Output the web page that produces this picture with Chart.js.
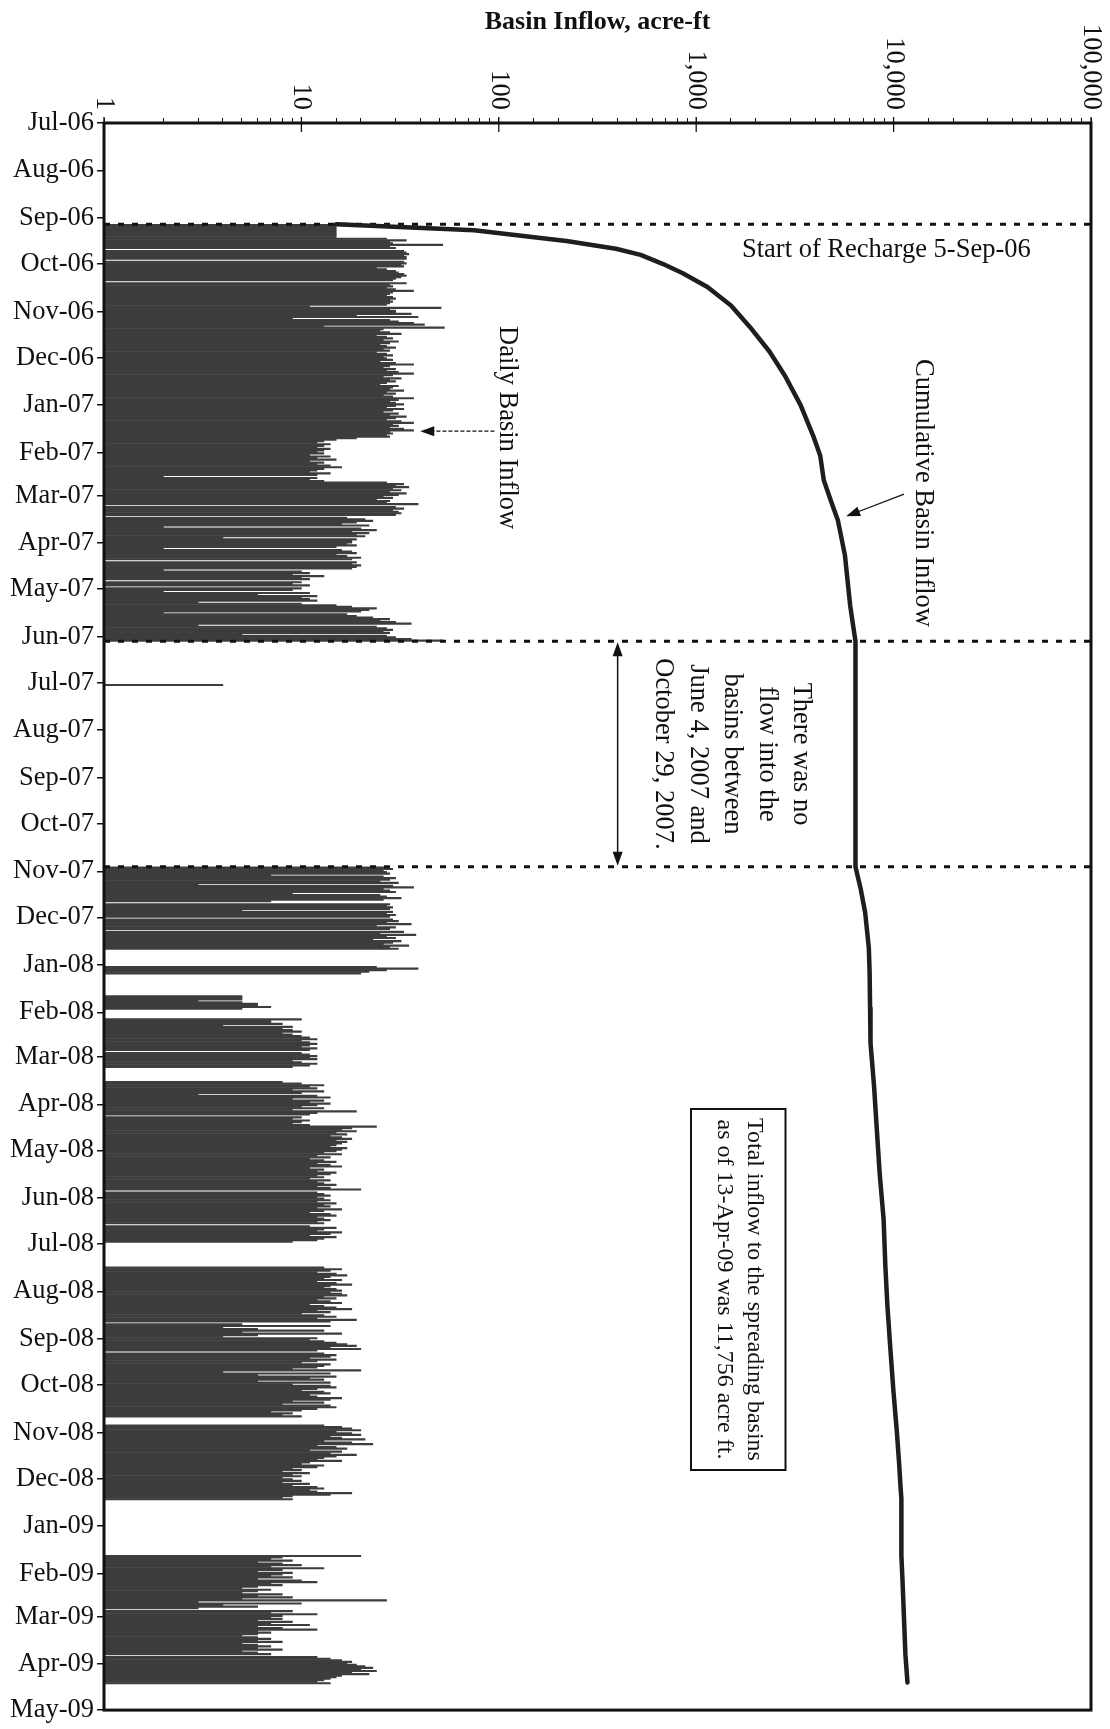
<!DOCTYPE html>
<html>
<head>
<meta charset="utf-8">
<title>Basin Inflow</title>
<script src="https://cdn.jsdelivr.net/npm/chart.js@4/dist/chart.umd.min.js"></script>
<style>
  html, body { margin: 0; padding: 0; background: #ffffff; }
  #wrap { width: 1110px; height: 1729px; position: relative; }
</style>
</head>
<body>
<div id="wrap"><canvas id="chart"></canvas></div>
<script>
// ---- Axis definitions ----
const monthLabels = ['Jul-06','Aug-06','Sep-06','Oct-06','Nov-06','Dec-06','Jan-07','Feb-07','Mar-07','Apr-07',
  'May-07','Jun-07','Jul-07','Aug-07','Sep-07','Oct-07','Nov-07','Dec-07','Jan-08','Feb-08','Mar-08','Apr-08',
  'May-08','Jun-08','Jul-08','Aug-08','Sep-08','Oct-08','Nov-08','Dec-08','Jan-09','Feb-09','Mar-09','Apr-09','May-09'];
const xTickValues = [1, 10, 100, 1000, 10000, 100000];
const xTickLabels = ['1', '10', '100', '1,000', '10,000', '100,000'];

// ---- Daily basin inflow, acre-ft per day (index 0 = 1st of month; missing days = no flow) ----
const sep06 = [0,0,0,0,15,15,15,15,15,15,15,15,15,27,34,28,29,52,28,30,0,33,34,35,33,34,34,0,33,34];
const oct06 = [32,33,24,27,30,31,33,34,32,30,29,0,34,28,29,27,30,37,29,28,27,29,30,28,29,28,27,11,51,28,30];
const nov06 = [30,36,19,39,9,28,31,37,42,13,53,26,25,28,32,24,27,29,26,31,28,25,27,30,26,28,24,27,29,26];
const dec06 = [27,29,25,30,37,28,26,30,27,31,37,29,26,32,28,30,27,25,31,29,28,33,27,30,26,29,37,31,28,30,33];
const jan07 = [30,27,33,29,26,31,28,34,30,27,32,37,29,31,28,33,37,28,29,27,28,19,15,13,12,14,13,12,14,13,12];
const feb07 = [13,11,14,12,15,11,13,12,14,16,13,12,11,14,12,2,12,11,13,27,33,30,35,29,32,28,34,31];
const mar07 = [26,29,24,28,27,39,0,30,33,29,31,32,30,0,17,21,23,19,16,22,2,20,24,18,22,19,21,4,19,18,18];
const apr07 = [17,19,15,2,16,18,19,15,17,20,18,0,19,18,20,19,18,2,10,11,9,13,10,11,0,10,9,11,0,10];
const may07 = [9,2,11,6,12,10,11,12,3,10,15,18,24,22,20,2,17,19,23,28,25,30,36,3,24,27,29,26,28,5,27];
const jun07 = [30,36,52];
const jul07 = [0,4];
const oct07 = [0,0,0,0,0,0,0,0,0,0,0,0,0,0,0,0,0,0,0,0,0,0,0,0,0,0,0,0,27,29,26];
const nov07 = [27,28,7,26,30,28,25,31,3,29,37,26,28,30,9,25,27,32,26,7,0,28,27,29,28,5,29,27,30,28];
const dec07 = [0,29,31,27,36,24,30,28,0,33,25,38,27,30,23,32,29,26,35,28,31];
const jan08 = [0,24,39,27,22,20,0,0,0,0,0,0,0,0,0,0,0,0,0,0,5,5,5,3,5,6,6,7,5];
const feb08 = [0,0,0,0,10,7,7,8,4,9,8,9,10,8,9,10,11,12,10,11,12,11,10,12,11,0,10,11,12];
const mar08 = [11,12,9,10,12,11,9,0,0,0,0,0,0,0,0,0,8,10,13,11,12,9,13,10,3,12,14,9,13,11,14];
const apr08 = [12,10,13,9,19,12,11,0,10,9,11,10,9,11,24,18,16,19,15,17,14,16,18,15,17,16,15,14,17,16];
const may08 = [15,13,16,12,14,11,13,15,12,14,16,11,13,12,15,14,12,13,11,14,12,13,15,12,14,20,0,12,13,14,12];
const jun08 = [13,14,12,15,13,14,12,16,13,11,14,15,12,13,14,12,13,0,11,15,13,12,16,14,11,15,13,12,9];
const jul08 = [0,0,0,0,0,0,0,0,0,0,0,0,0,0,0,13,16,14,12,15,17,14,13,16,12,15,18,14,13,15,16];
const aug08 = [14,16,17,13,15,12,14,16,11,13,15,18,12,14,10,13,15,12,19,14,0,5,14,4,6,13,5,16,6,4,12];
const sep08 = [11,13,15,17,19,14,20,12,0,13,15,14,11,15,12,10,14,13,12,9,20,4,14,6,15,11,13,6,14,9];
const oct08 = [14,15,12,10,13,14,11,12,16,14,9,13,8,14,15,12,10,7,9,8,10,0,0,0,0,0,13,16,18,20,15];
const nov08 = [18,20,14,16,21,13,18,23,12,15,17,11,16,14,19,15,13,12,16,11,10,13,12,9,10,8,11,9,10,8];
const dec08 = [9,10,8,11,9,12,13,11,12,18,14,9,8,9];
const jan09 = [0,0,0,0,0,0,0,0,0,0,0,0,0,0,0,0,0,0,0,20,8,7,9,6,8,10,7,13,8,6,9];
const feb09 = [8,7,9,6,10,12,7,8,6,5,7,6,5,8,6,9,5,27,3,10,4,6,3,0,9,7,12,8];
const mar09 = [7,8,6,9,7,11,6,8,12,6,7,6,5,6,7,6,8,5,6,7,6,8,5,6,7,0,12,14,16,18,17];
const apr09 = [19,21,23,20,24,18,22,16,15,14,13,12,14];

// ---- Cumulative basin inflow, acre-ft ----
const cumulativeDates = ['2006-09-05','2006-09-09','2006-09-13','2006-09-16','2006-09-21','2006-09-25','2006-10-01',
  '2006-10-07','2006-10-16','2006-10-28','2006-11-11','2006-11-27','2006-12-13','2007-01-01','2007-01-21','2007-02-03',
  '2007-02-19','2007-03-04','2007-03-17','2007-04-09','2007-05-12','2007-06-04','2007-10-29','2007-11-12','2007-11-28',
  '2007-12-21','2008-01-06','2008-01-29','2008-02-21','2008-03-20','2008-04-15','2008-05-16','2008-06-15','2008-07-15',
  '2008-08-10','2008-09-05','2008-10-05','2008-10-31','2008-11-20','2008-12-07','2008-12-14','2009-01-20','2009-02-06',
  '2009-03-01','2009-03-26','2009-04-13'];
const cumulativeValues = [15,75,140,220,392,523,680,855,1140,1500,1870,2350,2820,3380,3915,4250,4430,4800,5220,5670,
  6030,6410,6410,6800,7180,7490,7560,7600,7640,7960,8200,8500,8900,9080,9300,9600,9980,10380,10650,10850,10950,10950,
  11100,11280,11480,11756];

// ---- Event dates ----
const rechargeStart = '2006-09-05';
const noFlowStart = '2007-06-04';
const noFlowEnd = '2007-10-29';

// ---- Text ----
const titleText = 'Basin Inflow, acre-ft';
const rechargeNote = 'Start of Recharge 5-Sep-06';
const dailyNote = 'Daily Basin Inflow';
const cumulativeNote = 'Cumulative Basin Inflow';
const noFlowNote = ['There was no', 'flow into the', 'basins between', 'June 4, 2007 and', 'October 29, 2007.'];
const totalNote = ['Total inflow to the spreading basins', 'as of 13-Apr-09 was 11,756 acre ft.'];

// ---- Helpers: days counted from 1-Jul-2006 ----
const ORIGIN = Date.UTC(2006, 6, 1);
const DAY_MS = 86400000;
function dayIndex(iso) {
  const [yy, mm, dd] = iso.split('-').map(Number);
  return (Date.UTC(yy, mm - 1, dd || 1) - ORIGIN) / DAY_MS;
}
const monthTickDays = monthLabels.map((_, i) => (Date.UTC(2006, 6 + i, 1) - ORIGIN) / DAY_MS);

const inflowByMonth = [
  ['2006-09', sep06], ['2006-10', oct06], ['2006-11', nov06], ['2006-12', dec06],
  ['2007-01', jan07], ['2007-02', feb07], ['2007-03', mar07], ['2007-04', apr07], ['2007-05', may07],
  ['2007-06', jun07], ['2007-07', jul07], ['2007-10', oct07], ['2007-11', nov07], ['2007-12', dec07],
  ['2008-01', jan08], ['2008-02', feb08], ['2008-03', mar08], ['2008-04', apr08], ['2008-05', may08],
  ['2008-06', jun08], ['2008-07', jul08], ['2008-08', aug08], ['2008-09', sep08], ['2008-10', oct08],
  ['2008-11', nov08], ['2008-12', dec08], ['2009-01', jan09], ['2009-02', feb09], ['2009-03', mar09],
  ['2009-04', apr09]
];

const dailyPoints = [];
inflowByMonth.forEach(([month, values]) => {
  const first = dayIndex(month + '-01');
  values.forEach((v, i) => { if (v > 0) dailyPoints.push({ x: v, y: first + i + 0.5 }); });
});
const cumulativePoints = cumulativeDates.map((d, i) => ({ x: cumulativeValues[i], y: dayIndex(d) }));

const xMin = xTickValues[0];
const xMax = xTickValues[xTickValues.length - 1];
const markerLines = [rechargeStart, noFlowStart, noFlowEnd].map(d => ({
  type: 'line',
  indexAxis: 'y',
  data: [{ x: xMin, y: dayIndex(d) }, { x: xMax, y: dayIndex(d) }],
  borderColor: '#111111',
  borderWidth: 3,
  borderDash: [6, 8],
  pointRadius: 0,
  order: 1
}));

const SERIF = '"Liberation Serif", "Times New Roman", serif';

function arrowHead(ctx, tipX, tipY, angle, len, half) {
  ctx.save();
  ctx.translate(tipX, tipY);
  ctx.rotate(angle);
  ctx.beginPath();
  ctx.moveTo(0, 0);
  ctx.lineTo(-len, -half);
  ctx.lineTo(-len, half);
  ctx.closePath();
  ctx.fill();
  ctx.restore();
}

function verticalText(ctx, text, x, y, align) {
  ctx.save();
  ctx.translate(x, y);
  ctx.rotate(Math.PI / 2);
  ctx.textAlign = align;
  ctx.textBaseline = 'alphabetic';
  ctx.fillText(text, 0, 0);
  ctx.restore();
}

const decorations = {
  id: 'decorations',
  afterDatasetsDraw(chart) {
    const { ctx, chartArea: a, scales } = chart;
    const xs = scales.x;
    ctx.save();
    // plot frame
    ctx.strokeStyle = '#111111';
    ctx.lineWidth = 3;
    ctx.strokeRect(a.left, a.top, a.right - a.left, a.bottom - a.top);
    // decade ticks crossing the top axis
    ctx.lineWidth = 1.3;
    xTickValues.forEach(v => {
      const px = xs.getPixelForValue(v);
      ctx.beginPath();
      ctx.moveTo(px, a.top - 6);
      ctx.lineTo(px, a.top + 9);
      ctx.stroke();
    });
    ctx.restore();
  },
  afterDraw(chart) {
    const { ctx, chartArea: a, scales } = chart;
    const xs = scales.x, ys = scales.y;
    ctx.save();
    ctx.fillStyle = '#111111';
    ctx.strokeStyle = '#111111';

    // axis title
    ctx.font = 'bold 26px ' + SERIF;
    ctx.textAlign = 'center';
    ctx.textBaseline = 'alphabetic';
    ctx.fillText(titleText, (a.left + a.right) / 2, 29);

    // value-axis labels, turned to read downward
    ctx.font = '26.5px ' + SERIF;
    xTickValues.forEach((v, i) => {
      const px = xs.getPixelForValue(v);
      ctx.save();
      ctx.translate(px, a.top - 13);
      ctx.rotate(Math.PI / 2);
      ctx.textAlign = 'right';
      ctx.textBaseline = 'middle';
      ctx.fillText(xTickLabels[i], 0, 0);
      ctx.restore();
    });

    // recharge note
    ctx.textAlign = 'left';
    ctx.fillText(rechargeNote, 742, ys.getPixelForValue(dayIndex(rechargeStart)) + 33);

    // daily inflow note and pointer
    verticalText(ctx, dailyNote, 500, 326, 'left');
    const dy = ys.getPixelForValue(dayIndex('2007-01-18'));
    ctx.lineWidth = 1.2;
    ctx.setLineDash([4, 2]);
    ctx.beginPath();
    ctx.moveTo(xs.getPixelForValue(95), dy);
    ctx.lineTo(xs.getPixelForValue(40) + 10, dy);
    ctx.stroke();
    ctx.setLineDash([]);
    arrowHead(ctx, xs.getPixelForValue(40), dy, Math.PI, 14, 5);

    // cumulative note and pointer
    verticalText(ctx, cumulativeNote, 916, 359, 'left');
    const cx0 = xs.getPixelForValue(11300), cy0 = ys.getPixelForValue(242);
    const cx1 = xs.getPixelForValue(5750), cy1 = ys.getPixelForValue(256.5);
    const ang = Math.atan2(cy1 - cy0, cx1 - cx0);
    ctx.lineWidth = 1.3;
    ctx.beginPath();
    ctx.moveTo(cx0, cy0);
    ctx.lineTo(cx1 - 10 * Math.cos(ang), cy1 - 10 * Math.sin(ang));
    ctx.stroke();
    arrowHead(ctx, cx1, cy1, ang, 14, 5);

    // no-flow period: double arrow and note
    const ax = xs.getPixelForValue(400);
    const ay0 = ys.getPixelForValue(dayIndex(noFlowStart));
    const ay1 = ys.getPixelForValue(dayIndex(noFlowEnd));
    ctx.lineWidth = 1.5;
    ctx.beginPath();
    ctx.moveTo(ax, ay0 + 10);
    ctx.lineTo(ax, ay1 - 10);
    ctx.stroke();
    arrowHead(ctx, ax, ay0 + 1, -Math.PI / 2, 14, 5);
    arrowHead(ctx, ax, ay1 - 1, Math.PI / 2, 14, 5);
    const noteMid = (ay0 + ay1) / 2;
    noFlowNote.forEach((line, i) => verticalText(ctx, line, 794 - i * 34.5, noteMid, 'center'));

    // total inflow box
    const bx0 = 691, bx1 = 785.5, by0 = 1109, by1 = 1470;
    ctx.lineWidth = 2;
    ctx.strokeRect(bx0, by0, bx1 - bx0, by1 - by0);
    ctx.font = '24px ' + SERIF;
    verticalText(ctx, totalNote[0], 747.5, (by0 + by1) / 2, 'center');
    verticalText(ctx, totalNote[1], 718, (by0 + by1) / 2, 'center');

    ctx.restore();
  }
};

new Chart(document.getElementById('chart'), {
  type: 'bar',
  data: {
    datasets: [
      {
        type: 'line',
        label: 'Cumulative Basin Inflow',
        indexAxis: 'y',
        data: cumulativePoints,
        borderColor: '#1e1e1e',
        borderWidth: 4.5,
        borderJoinStyle: 'round',
        borderCapStyle: 'round',
        pointRadius: 0,
        tension: 0,
        order: 0
      },
      ...markerLines,
      {
        type: 'bar',
        label: 'Daily Basin Inflow',
        indexAxis: 'y',
        data: dailyPoints,
        backgroundColor: '#3d3d3d',
        borderWidth: 0,
        categoryPercentage: 1,
        barPercentage: 1,
        order: 2
      }
    ]
  },
  options: {
    indexAxis: 'y',
    responsive: true,
    maintainAspectRatio: false,
    devicePixelRatio: 1,
    animation: false,
    events: [],
    layout: { padding: { left: 0, top: 0, right: 19, bottom: 9 } },
    plugins: { legend: { display: false }, tooltip: { enabled: false }, title: { display: false } },
    scales: {
      x: {
        type: 'logarithmic',
        position: 'top',
        min: xMin,
        max: xMax,
        afterFit(scale) { scale.height = 123; },
        ticks: { display: false },
        grid: { display: true, drawOnChartArea: false, drawTicks: true, tickLength: 5, color: '#111111', lineWidth: 1 },
        border: { display: false }
      },
      y: {
        type: 'linear',
        reverse: true,
        offset: false,
        min: monthTickDays[0],
        max: monthTickDays[monthTickDays.length - 1],
        afterBuildTicks(scale) { scale.ticks = monthTickDays.map(v => ({ value: v })); },
        afterFit(scale) { scale.width = 104; },
        ticks: {
          autoSkip: false,
          padding: 3,
          color: '#111111',
          font: { family: SERIF, size: 26.5 },
          callback: (value, index) => monthLabels[index]
        },
        grid: { display: true, offset: false, drawOnChartArea: false, drawTicks: true, tickLength: 7, color: '#111111', lineWidth: 1.5 },
        border: { display: false }
      }
    }
  },
  plugins: [decorations]
});
</script>
</body>
</html>
